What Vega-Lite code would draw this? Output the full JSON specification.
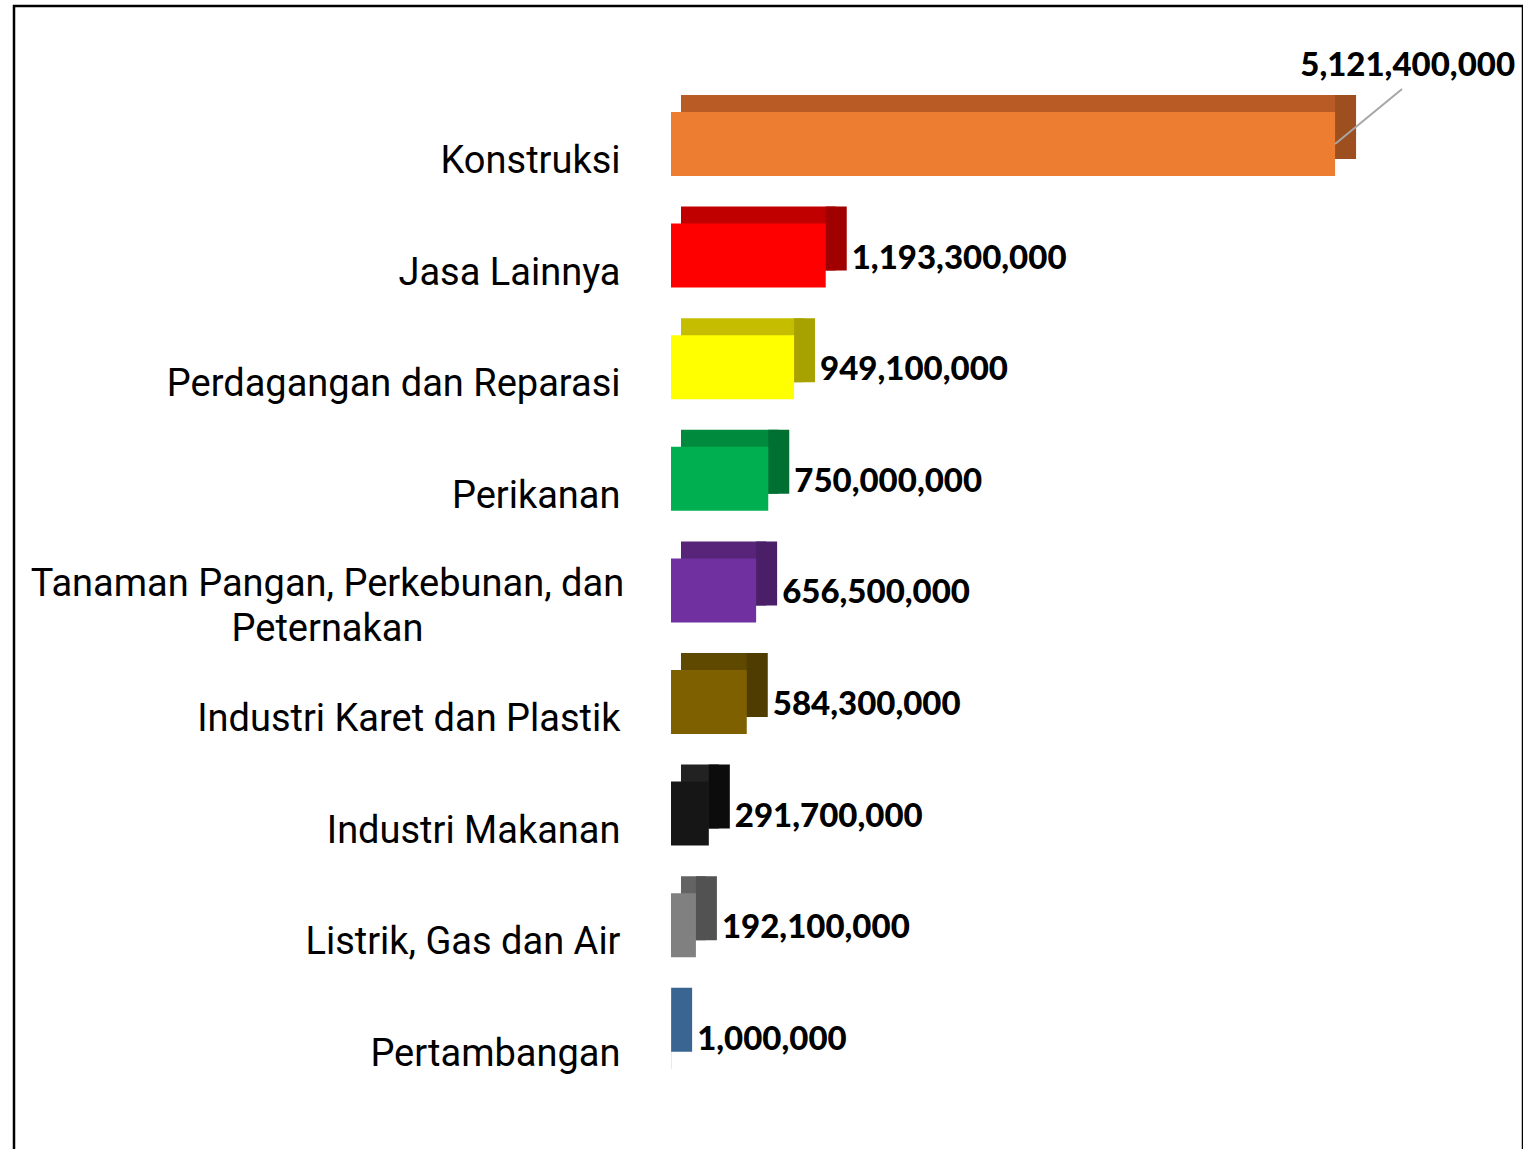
{
  "$schema": "https://vega.github.io/schema/vega-lite/v6.json",
  "autosize": {"type": "none"},
  "padding": {"left": 14, "top": 6, "right": 0, "bottom": 0},
  "width": 1509,
  "height": 1160,
  "background": "#ffffff",
  "config": {"view": {"stroke": "#000000", "strokeWidth": 2.5}},
  "data": {"values": [
    {"sector": "Konstruksi", "value": 5121400000},
    {"sector": "Jasa Lainnya", "value": 1193300000},
    {"sector": "Perdagangan dan Reparasi", "value": 949100000},
    {"sector": "Perikanan", "value": 750000000},
    {"sector": "Tanaman Pangan, Perkebunan, dan Peternakan", "value": 656500000},
    {"sector": "Industri Karet dan Plastik", "value": 584300000},
    {"sector": "Industri Makanan", "value": 291700000},
    {"sector": "Listrik, Gas dan Air", "value": 192100000},
    {"sector": "Pertambangan", "value": 1000000}
  ]},
  "encoding": {
    "y": {
      "field": "sector", "type": "nominal", "sort": null,
      "scale": {"range": [82.2, 1086.6], "paddingInner": 0.4265, "paddingOuter": 0.21325},
      "axis": {
        "title": null, "ticks": false, "domain": false, "offset": -606,
        "labelFont": "Roboto", "labelFontSize": 38, "labelColor": "#000000",
        "labelLimit": 0, "labelLineHeight": 45,
        "labelOffset": {"condition": {"test": "datum.value == 'Tanaman Pangan, Perkebunan, dan Peternakan'", "value": -5}, "value": 18},
        "labelAlign": {"condition": {"test": "datum.value == 'Tanaman Pangan, Perkebunan, dan Peternakan'", "value": "center"}, "value": "right"},
        "labelPadding": {"condition": {"test": "datum.value == 'Tanaman Pangan, Perkebunan, dan Peternakan'", "value": 293}, "value": 0},
        "labelExpr": "datum.label == 'Tanaman Pangan, Perkebunan, dan Peternakan' ? ['Tanaman Pangan, Perkebunan, dan', 'Peternakan'] : datum.label"
      }
    },
    "x": {
      "field": "value", "type": "quantitative",
      "scale": {"domain": [0, 6000000000], "range": [657, 1435], "nice": false},
      "axis": null
    }
  },
  "resolve": {"scale": {"color": "independent"}},
  "layer": [
    {
      "mark": {"type": "bar", "xOffset": 10, "x2Offset": 21, "yOffset": -17, "y2Offset": -17},
      "encoding": {
        "color": {"field": "sector", "type": "nominal", "legend": null,
          "scale": {"domain": ["Konstruksi", "Jasa Lainnya", "Perdagangan dan Reparasi", "Perikanan", "Tanaman Pangan, Perkebunan, dan Peternakan", "Industri Karet dan Plastik", "Industri Makanan", "Listrik, Gas dan Air", "Pertambangan"],
            "range": ["#b85b24", "#c00000", "#c4bd00", "#008a3e", "#572479", "#5f4800", "#222222", "#636363", "#2d5079"]}}
      }
    },
    {
      "mark": {"type": "bar", "x2Offset": 21, "yOffset": -17, "y2Offset": -17},
      "encoding": {
        "x2": {"field": "value"},
        "color": {"field": "sector", "type": "nominal", "legend": null,
          "scale": {"domain": ["Konstruksi", "Jasa Lainnya", "Perdagangan dan Reparasi", "Perikanan", "Tanaman Pangan, Perkebunan, dan Peternakan", "Industri Karet dan Plastik", "Industri Makanan", "Listrik, Gas dan Air", "Pertambangan"],
            "range": ["#9e4f1f", "#a00000", "#a8a200", "#006f32", "#4a1f68", "#4f3c00", "#0c0c0c", "#525252", "#3a6491"]}}
      }
    },
    {
      "mark": {"type": "bar"},
      "encoding": {
        "color": {"field": "sector", "type": "nominal", "legend": null,
          "scale": {"domain": ["Konstruksi", "Jasa Lainnya", "Perdagangan dan Reparasi", "Perikanan", "Tanaman Pangan, Perkebunan, dan Peternakan", "Industri Karet dan Plastik", "Industri Makanan", "Listrik, Gas dan Air", "Pertambangan"],
            "range": ["#ed7d31", "#ff0000", "#ffff00", "#00b050", "#7030a0", "#7f6000", "#161616", "#808080", "#376092"]}}
      }
    },
    {
      "transform": [{"filter": "datum.sector != 'Konstruksi'"}],
      "mark": {"type": "text", "align": "left", "baseline": "middle", "dx": 26, "dy": 3, "font": "Lato", "fontWeight": 900, "fontSize": 33, "color": "#000000"},
      "encoding": {"text": {"field": "value", "type": "quantitative", "format": ","}}
    },
    {
      "transform": [{"filter": "datum.sector == 'Konstruksi'"}],
      "mark": {"type": "rule", "x2Offset": 67, "y2Offset": -55, "color": "#a6a6a6", "strokeWidth": 2},
      "encoding": {"x2": {"field": "value"}, "y2": {"field": "sector"}}
    },
    {
      "transform": [{"filter": "datum.sector == 'Konstruksi'"}],
      "mark": {"type": "text", "align": "right", "baseline": "middle", "dx": 180, "dy": -78, "font": "Lato", "fontWeight": 900, "fontSize": 33, "color": "#000000"},
      "encoding": {"text": {"field": "value", "type": "quantitative", "format": ","}}
    }
  ]
}
